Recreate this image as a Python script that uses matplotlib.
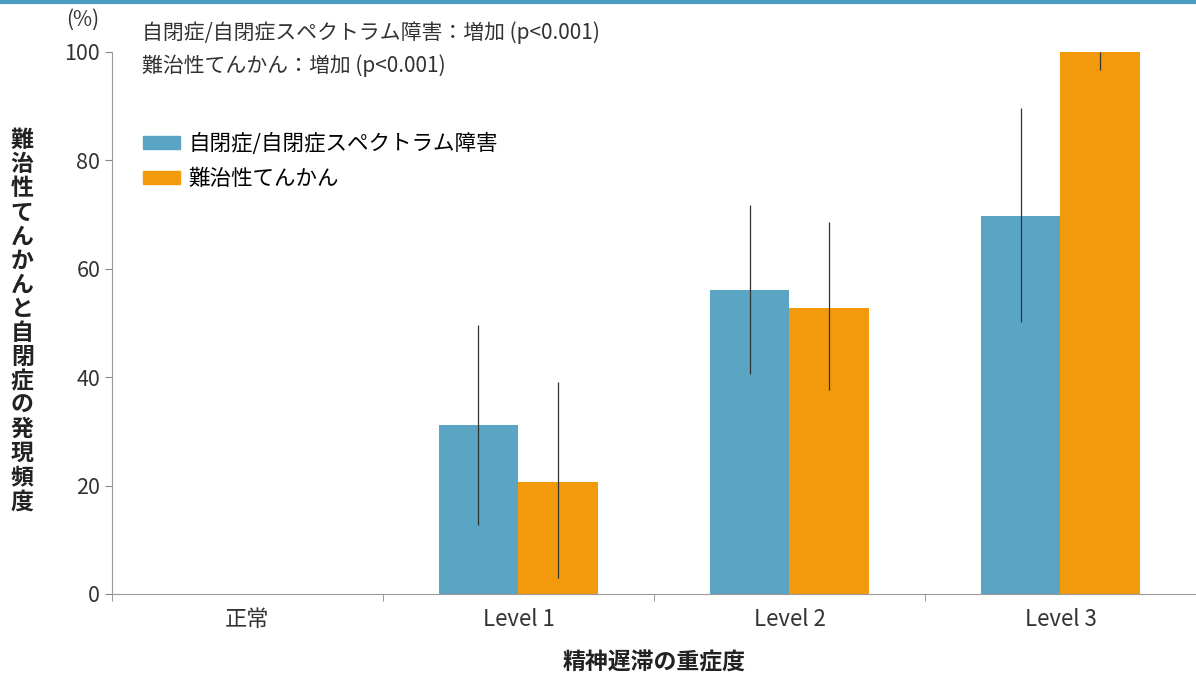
import numpy as np
import matplotlib.pyplot as plt
from matplotlib.patches import Patch

plt.rcParams['font.family'] = ['Noto Sans CJK JP', 'DejaVu Sans']

categories = ['正常', 'Level 1', 'Level 2', 'Level 3']
autism = [np.nan, 31.2, 56.1, 69.7]
autism_lo = [np.nan, 12.7, 40.6, 50.2]
autism_hi = [np.nan, 49.6, 71.8, 89.7]
epilepsy = [np.nan, 20.7, 52.8, 100.0]
epilepsy_lo = [np.nan, 3.0, 37.6, 96.7]
epilepsy_hi = [np.nan, 39.1, 68.6, 100.0]

series_names = ['自閉症/自閉症スペクトラム障害', '難治性てんかん']
blue = '#5aa4c4'
orange = '#f29a0b'

fig = plt.figure(figsize=(11.96, 6.75), dpi=100)
ax = fig.add_axes([0.0936, 0.12, 0.9064, 0.803])

x = np.arange(len(categories))
w = 0.295
a = np.array(autism)
e = np.array(epilepsy)
ax.bar(x - w / 2, a, w, color=blue)
ax.bar(x + w / 2, e, w, color=orange)
ax.errorbar(x - w / 2, a, yerr=[a - np.array(autism_lo), np.array(autism_hi) - a],
            fmt='none', ecolor='#333333', elinewidth=0.9, capsize=0)
ax.errorbar(x + w / 2, e, yerr=[e - np.array(epilepsy_lo), np.array(epilepsy_hi) - e],
            fmt='none', ecolor='#333333', elinewidth=0.9, capsize=0)

ax.set_xlim(-0.5, 3.5)
ax.set_ylim(0, 100)
ax.set_yticks([0, 20, 40, 60, 80, 100])
ax.set_xticks(x)
ax.set_xticklabels(categories, fontsize=16, color='#333333')
ax.set_xticks(np.arange(-0.5, 4, 1), minor=True)
ax.tick_params(axis='x', which='major', length=0, pad=10)
ax.tick_params(axis='x', which='minor', length=5, color='#888888')
ax.tick_params(axis='y', length=5, color='#888888', labelsize=15.5, labelcolor='#333333')
for s in ['top', 'right']:
    ax.spines[s].set_visible(False)
for s in ['left', 'bottom']:
    ax.spines[s].set_color('#999999')

ax.set_xlabel('精神遅滞の重症度', fontsize=16.5, fontweight='bold', labelpad=15,
              color='#222222')

fig.text(0.009, 0.524, '\n'.join('難治性てんかんと自閉症の発現頻度'), fontsize=16.5,
         fontweight='bold', ha='left', va='center', linespacing=1.06, color='#222222')
fig.text(0.055, 0.97, '(%)', fontsize=15, color='#333333', ha='left', va='center')
fig.text(0.119, 0.951, '自閉症/自閉症スペクトラム障害：増加 (p<0.001)', fontsize=15,
         color='#333333', ha='left', va='center')
fig.text(0.119, 0.902, '難治性てんかん：増加 (p<0.001)', fontsize=15,
         color='#333333', ha='left', va='center')

handles = [Patch(color=blue), Patch(color=orange)]
ax.legend(handles, series_names, loc='upper left', bbox_to_anchor=(0.0207, 0.866),
          frameon=False, fontsize=15.5, handlelength=1.7, handleheight=0.55,
          handletextpad=0.4, labelspacing=0.6, borderaxespad=0)

fig.add_artist(plt.Line2D([0, 1], [0.997, 0.997], color='#4a9cc0', lw=3,
                          transform=fig.transFigure))

fig.savefig('out.png', dpi=100)
